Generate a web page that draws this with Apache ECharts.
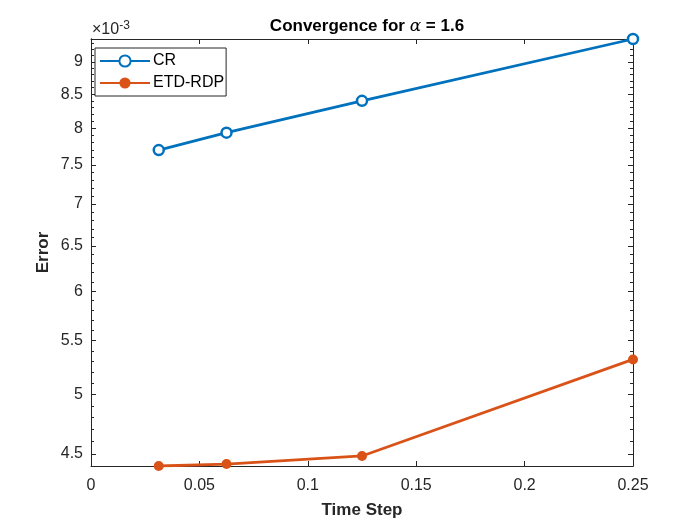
<!DOCTYPE html>
<html>
<head>
<meta charset="utf-8">
<script src="https://cdn.jsdelivr.net/npm/echarts@6/dist/echarts.min.js"></script>
<style>
    html, body { margin: 0; padding: 0; background: #fff; }
    #chart { width: 700px; height: 525px; }
</style>
</head>
<body>
<div id="chart"></div>
<script>
// 数据
var timeStep = [0.03125, 0.0625, 0.125, 0.25];
var errCR = [7.70e-3, 7.94e-3, 8.40e-3, 9.37e-3];
var errETD = [4.405e-3, 4.42e-3, 4.484e-3, 5.318e-3];
var seriesNames = ['CR', 'ETD-RDP'];
var yTickLabels = [4.5, 5, 5.5, 6, 6.5, 7, 7.5, 8, 8.5, 9]; // x 1e-3
var yLimits = [4.405e-3, 9.37e-3];
var xLimits = [0, 0.25];

// y 轴为对数坐标，用 log10 变换后放到 value 轴上
function lg(v) { return Math.log10(v); }
function toPairs(xs, ys) {
    return xs.map(function(x, i) { return [x, lg(ys[i])]; });
}
var majorVals = yTickLabels.map(function(t) { return lg(t * 1e-3); });
var minorVals = [];
for (var m = 44; m <= 94; m++) {
    var v = m / 10 * 1e-3;
    if (v >= yLimits[0] && v <= yLimits[1]) minorVals.push(lg(v));
}

var axisColor = '#262626';
var font = '"Liberation Sans", Arial, sans-serif';

function yAxisBase(pos, len, vals) {
    return {
        type: 'value',
        position: pos,
        min: lg(yLimits[0]),
        max: lg(yLimits[1]),
        axisLine: { show: true, onZero: false, lineStyle: { color: axisColor, width: 1 } },
        axisTick: { show: true, inside: true, length: len, customValues: vals, lineStyle: { color: axisColor } },
        axisLabel: { show: false },
        splitLine: { show: false }
    };
}

var chart = echarts.init(document.getElementById('chart'));
var option = {
    animation: false,
    backgroundColor: '#fff',
    textStyle: { fontFamily: font },
    title: {
        text: 'Convergence for {a|α} = 1.6',
        left: 362,
        textAlign: 'center',
        top: 13,
        textStyle: {
            fontFamily: font, fontSize: 17, fontWeight: 'bold', color: '#000',
            rich: { a: { fontFamily: '"DejaVu Serif", serif', fontStyle: 'italic', fontSize: 17, fontWeight: 'normal', color: '#000' } }
        }
    },
    graphic: [{
        type: 'text',
        left: 92,
        top: 20,
        style: {
            text: '×10{s|-3}',
            font: '16px ' + font,
            fill: axisColor,
            rich: { s: { fontSize: 12, fontFamily: font, fill: axisColor, verticalAlign: 'top', padding: [0, 0, 8, 0] } }
        }
    }],
    legend: {
        data: seriesNames,
        orient: 'vertical',
        left: 95,
        top: 48,
        itemWidth: 50,
        itemHeight: 14,
        itemGap: 6,
        padding: [5, 2, 5, 4],
        borderColor: '#262626',
        borderWidth: 1,
        backgroundColor: '#fff',
        textStyle: { fontFamily: font, fontSize: 16, color: '#000', padding: [0, 0, 0, -2] }
    },
    grid: { left: 91, right: 67, top: 39, bottom: 59 },
    xAxis: [{
        type: 'value',
        min: xLimits[0],
        max: xLimits[1],
        interval: 0.05,
        name: 'Time Step',
        nameLocation: 'middle',
        nameGap: 36,
        nameMoveOverlap: false,
        nameTextStyle: { fontFamily: font, fontSize: 17, fontWeight: 'bold', color: axisColor },
        axisLine: { show: true, onZero: false, lineStyle: { color: axisColor } },
        axisTick: { show: true, inside: true, length: 5, lineStyle: { color: axisColor } },
        axisLabel: { fontFamily: font, fontSize: 16, color: axisColor, margin: 12 },
        splitLine: { show: false }
    }, {
        type: 'value',
        position: 'top',
        min: xLimits[0],
        max: xLimits[1],
        interval: 0.05,
        axisLine: { show: true, onZero: false, lineStyle: { color: axisColor } },
        axisTick: { show: true, inside: true, length: 5, lineStyle: { color: axisColor } },
        axisLabel: { show: false },
        splitLine: { show: false }
    }],
    yAxis: [
        (function() {
            var a = yAxisBase('left', 5, majorVals);
            a.name = 'Error';
            a.nameLocation = 'middle';
            a.nameGap = 39;
            a.nameMoveOverlap = false;
            a.nameTextStyle = { fontFamily: font, fontSize: 17, fontWeight: 'bold', color: axisColor };
            a.axisLabel = {
                show: true,
                customValues: majorVals,
                fontFamily: font, fontSize: 16, color: axisColor, margin: 8,
                formatter: function(v) { return String(parseFloat((Math.pow(10, v) * 1000).toFixed(1))); }
            };
            return a;
        })(),
        yAxisBase('right', 5, majorVals),
        yAxisBase('left', 3, minorVals),
        yAxisBase('right', 3, minorVals)
    ],
    series: [{
        name: seriesNames[0],
        type: 'line',
        data: toPairs(timeStep, errCR),
        symbol: 'circle',
        symbolSize: 10,
        lineStyle: { color: '#0072BD', width: 2.8 },
        itemStyle: { color: '#fff', borderColor: '#0072BD', borderWidth: 2.5 },
        z: 3
    }, {
        name: seriesNames[1],
        type: 'line',
        data: toPairs(timeStep, errETD),
        symbol: 'circle',
        symbolSize: 10,
        lineStyle: { color: '#D95319', width: 2.8 },
        itemStyle: { color: '#D95319', borderColor: '#D95319', borderWidth: 0 },
        z: 3
    }]
};
chart.setOption(option);
</script>
</body>
</html>
